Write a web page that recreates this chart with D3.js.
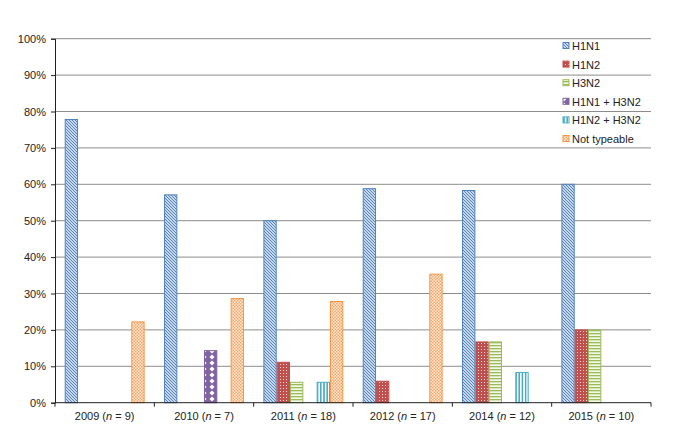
<!DOCTYPE html>
<html><head><meta charset="utf-8">
<script src="https://cdn.jsdelivr.net/npm/d3@7"></script>
<style>body{margin:0;background:#fff}svg{display:block}text{font-family:"Liberation Sans",Arial,sans-serif;fill:#222}</style>
</head><body>
<svg id="c" width="695" height="444"></svg>
<script>
const years = ["2009", "2010", "2011", "2012", "2014", "2015"];
const ns = [9, 7, 18, 17, 12, 10];
const series = ["H1N1", "H1N2", "H3N2", "H1N1 + H3N2", "H1N2 + H3N2", "Not typeable"];
const h1n1 = [77.8, 57.1, 50.0, 58.8, 58.3, 60.0];
const h1n2 = [0, 0, 11.1, 5.9, 16.7, 20.0];
const h3n2 = [0, 0, 5.6, 0, 16.7, 20.0];
const h1n1h3n2 = [0, 14.3, 0, 0, 0, 0];
const h1n2h3n2 = [0, 0, 5.6, 0, 8.3, 0];
const notTypeable = [22.2, 28.6, 27.8, 35.3, 0, 0];
const yTicks = [0, 10, 20, 30, 40, 50, 60, 70, 80, 90, 100];
const values = [h1n1, h1n2, h3n2, h1n1h3n2, h1n2h3n2, notTypeable];

const svg = d3.select("#c");
const L = 55, R = 651, T = 38.7, B = 402.7;
const x0 = d3.scaleBand().domain(years).range([L, R]);
const x1 = d3.scaleBand().domain(series).range([0, x0.bandwidth()]).paddingOuter(0.73);
const y = d3.scaleLinear().domain([0, 100]).range([B, T]);

const colors = ["#4f81bd", "#c0504d", "#9bbb59", "#8064a2", "#4bacc6", "#f79646"];
const defs = svg.append("defs");
// H1N1 diagonal
let p = defs.append("pattern").attr("id", "p0").attr("patternUnits", "userSpaceOnUse").attr("width", 3).attr("height", 3);
p.append("rect").attr("width", 3).attr("height", 3).attr("fill", "#fff");
p.append("path").attr("d", "M-1,-1L4,4M-1,2L1,4M2,-1L4,1").attr("stroke", "#4f81bd").attr("stroke-width", 1.2);
// H1N2 dots
p = defs.append("pattern").attr("id", "p1").attr("patternUnits", "userSpaceOnUse").attr("width", 3).attr("height", 3);
p.append("rect").attr("width", 3).attr("height", 3).attr("fill", "#c0504d");
p.append("rect").attr("x", 1).attr("y", 1).attr("width", 1).attr("height", 1).attr("fill", "#f4d6d5");
// H3N2 horizontal
p = defs.append("pattern").attr("id", "p2").attr("patternUnits", "userSpaceOnUse").attr("width", 3).attr("height", 3);
p.append("rect").attr("width", 3).attr("height", 3).attr("fill", "#f3f7ea");
p.append("rect").attr("y", 0).attr("width", 3).attr("height", 1.3).attr("fill", "#9bbb59");
// H1N1+H3N2 diamonds
p = defs.append("pattern").attr("id", "p3").attr("patternUnits", "userSpaceOnUse").attr("width", 8).attr("height", 6);
p.append("rect").attr("width", 8).attr("height", 6).attr("fill", "#8064a2");
p.append("path").attr("d", "M4,0.5L6.5,3L4,5.5L1.5,3Z").attr("fill", "#fff");
// H1N2+H3N2 vertical
p = defs.append("pattern").attr("id", "p4").attr("patternUnits", "userSpaceOnUse").attr("width", 3.2).attr("height", 3);
p.append("rect").attr("width", 3.2).attr("height", 3).attr("fill", "#fff");
p.append("rect").attr("x", 0).attr("width", 1.6).attr("height", 3).attr("fill", "#4bacc6");
// Not typeable checker
p = defs.append("pattern").attr("id", "p5").attr("patternUnits", "userSpaceOnUse").attr("width", 3).attr("height", 3);
p.append("rect").attr("width", 3).attr("height", 3).attr("fill", "#fde9d9");
p.append("rect").attr("width", 1.5).attr("height", 1.5).attr("fill", "#f5a86a");
p.append("rect").attr("x", 1.5).attr("y", 1.5).attr("width", 1.5).attr("height", 1.5).attr("fill", "#f5a86a");

// gridlines
svg.append("g").selectAll("line").data(yTicks.filter(d => d > 0)).join("line")
  .attr("x1", L).attr("x2", R).attr("y1", d => y(d)).attr("y2", d => y(d))
  .attr("stroke", "#8c8c8c").attr("stroke-width", 1);

// bars
const g = svg.append("g");
years.forEach((yr, i) => {
  series.forEach((s, j) => {
    const v = values[j][i];
    if (!v) return;
    g.append("rect")
      .attr("x", x0(yr) + x1(s) + 0.5).attr("y", y(v))
      .attr("width", x1.bandwidth() - 1).attr("height", B - y(v))
      .attr("fill", `url(#p${j})`).attr("stroke", colors[j]).attr("stroke-width", 1);
  });
});

// y axis
const ya = svg.append("g").attr("transform", `translate(${L},0)`)
  .call(d3.axisLeft(y).tickValues(yTicks).tickFormat(d => d + "%").tickSize(4).tickPadding(5));
ya.select(".domain").attr("stroke", "#222");
ya.selectAll(".tick line").attr("stroke", "#222");
ya.selectAll("text").attr("font-size", 11).attr("fill", "#222").style("font-family", "Liberation Sans, Arial, sans-serif");

// x axis
svg.append("line").attr("x1", L).attr("x2", R).attr("y1", B).attr("y2", B).attr("stroke", "#222");
const bounds = years.map(d => x0(d)).concat([R]);
svg.append("g").selectAll("line").data(bounds).join("line")
  .attr("x1", d => d).attr("x2", d => d).attr("y1", B).attr("y2", B + 4).attr("stroke", "#222");
const xl = svg.append("g").selectAll("text").data(years).join("text")
  .attr("x", d => x0(d) + x0.bandwidth() / 2).attr("y", 420).attr("text-anchor", "middle").attr("font-size", 11);
xl.each(function(d, i) {
  const t = d3.select(this);
  t.append("tspan").text(d + " (");
  t.append("tspan").attr("font-style", "italic").text("n");
  t.append("tspan").text(" = " + ns[i] + ")");
});

// legend
const lg = svg.append("g");
series.forEach((s, j) => {
  const cy = 46 + j * 18.6;
  lg.append("rect").attr("x", 563).attr("y", cy - 3.5).attr("width", 6).attr("height", 6)
    .attr("fill", `url(#p${j})`).attr("stroke", colors[j]).attr("stroke-width", 1);
  lg.append("text").attr("x", 572).attr("y", cy + 4).attr("font-size", 11).text(s);
});
</script>
</body></html>
